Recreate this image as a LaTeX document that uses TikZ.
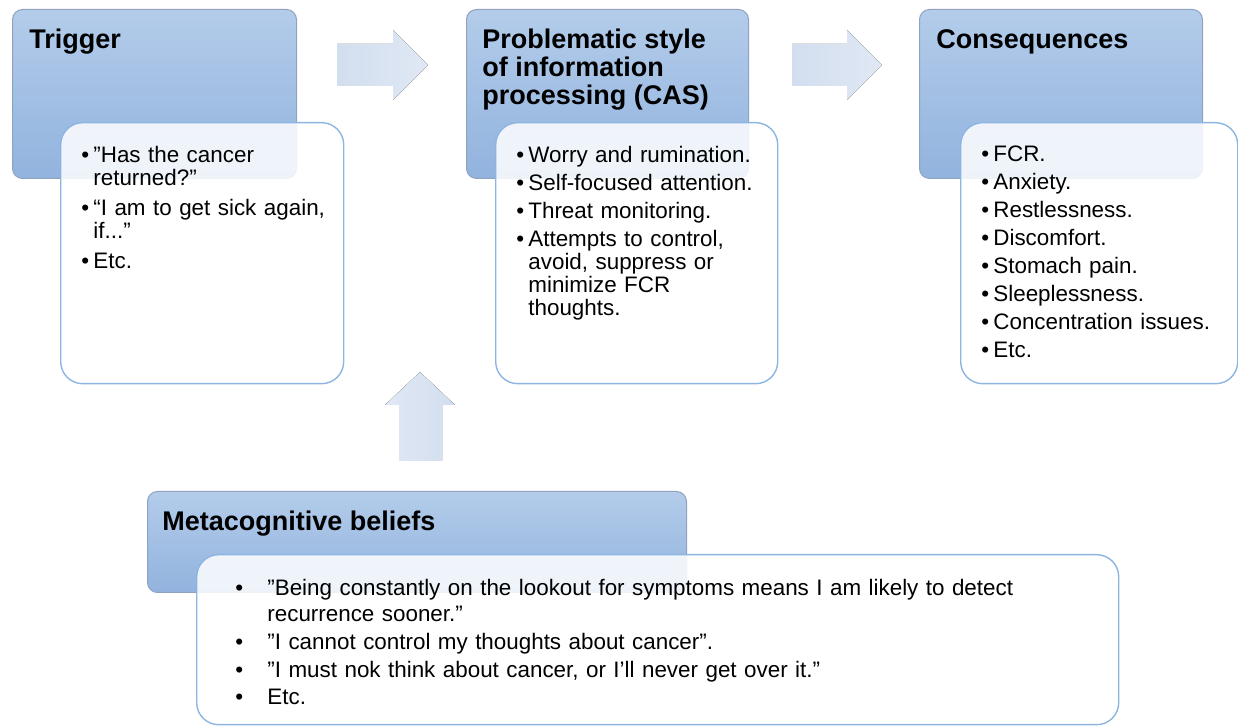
\documentclass[tikz,border=0pt]{standalone}
\usepackage{fontspec}
\setmainfont{Liberation Sans}
\usepackage{xcolor}
\definecolor{hdtop}{HTML}{B3CCEA}
\definecolor{hdbot}{HTML}{92B3DE}
\definecolor{hdline}{HTML}{8FA3C0}
\definecolor{bxline}{HTML}{8DB5E4}
\definecolor{arlo}{HTML}{D2DEEF}
\definecolor{arhi}{HTML}{E0E8F4}
\newcommand{\bul}[1]{\par\hangindent=6pt\hangafter=1\noindent\makebox[6pt][l]{•}#1}
\newcommand{\wbul}[1]{\par\hangindent=16pt\hangafter=1\noindent\makebox[16pt][l]{•}#1}

\begin{document}
\begin{tikzpicture}[x=0.5pt, y=-0.5pt,
  hdr/.style={draw=hdline, line width=0.5pt, top color=hdtop, bottom color=hdbot,
    rounded corners=5pt, anchor=north west, inner sep=0pt},
  note/.style={draw=bxline, line width=0.7pt, fill=white, fill opacity=0.85,
    rounded corners=11pt, anchor=north west, inner sep=0pt},
  ttl/.style={anchor=north west, inner sep=0pt, align=left,
    font=\fontsize{13.5}{14}\selectfont\bfseries},
  lst/.style={anchor=north west, inner sep=0pt, align=left, text width=140pt,
    font=\fontsize{11.2}{11.5}\selectfont},
  blk/.style={left color=arlo, right color=arhi}]
  \useasboundingbox (0,0) rectangle (1238,726);

  % header boxes
  \node[hdr, minimum width=142pt, minimum height=84.5pt] (trig-h) at (12,9) {};
  \node[hdr, minimum width=141pt, minimum height=84.5pt] (cas-h) at (466,9) {};
  \node[hdr, minimum width=141.5pt, minimum height=84.5pt] (cons-h) at (919,9) {};
  \node[hdr, minimum width=269.5pt, minimum height=50.5pt] (meta-h) at (147,491) {};

  \node[ttl] (trig-t) at (29,29) {Trigger};
  \node[ttl] (cas-t) at (482,29) {Problematic style\\of information\\processing (CAS)};
  \node[ttl] (cons-t) at (936,29) {Consequences};
  \node[ttl] (meta-t) at (162,511) {Metacognitive beliefs};

  % block arrows
  \fill[blk] (337,44) -- (393,44) -- (393,30) -- (428,65) -- (393,100) -- (393,86) -- (337,86) -- cycle;
  \fill[blk] (792,44) -- (847,44) -- (847,30) -- (882,65) -- (847,100) -- (847,86) -- (792,86) -- cycle;
  \fill[left color=arhi, right color=arlo] (399,461) -- (399,405) -- (385,405) -- (420,372)
    -- (455,405) -- (442,405) -- (442,461) -- cycle;

  % white boxes
  \node[note, minimum width=141.5pt, minimum height=130.5pt] (trig-b) at (60,122) {};
  \node[note, minimum width=141pt, minimum height=130.5pt] (cas-b) at (495,122) {};
  \node[note, minimum width=138.5pt, minimum height=130.5pt] (cons-b) at (960,122) {};
  \node[note, minimum width=461pt, minimum height=85pt] (meta-b) at (196,554) {};

  \node[lst] (trig-l) at (81,132) {\setlength{\parskip}{3.5pt}%
    \bul{”Has the cancer\newline returned?”}
    \bul{“I am to get sick again,\newline if...”}
    \bul{Etc.}\par};
  \node[lst] (cas-l) at (516,134) {\setlength{\parskip}{2.5pt}%
    \bul{Worry and rumination.}
    \bul{Self-focused attention.}
    \bul{Threat monitoring.}
    \bul{Attempts to control,\newline avoid, suppress or\newline minimize FCR\newline thoughts.}\par};
  \node[lst] (cons-l) at (981,133) {\setlength{\parskip}{2.5pt}%
    \bul{FCR.}
    \bul{Anxiety.}
    \bul{Restlessness.}
    \bul{Discomfort.}
    \bul{Stomach pain.}
    \bul{Sleeplessness.}
    \bul{Concentration issues.}
    \bul{Etc.}\par};
  \node[lst, text width=440pt, font=\fontsize{11.2}{13}\selectfont] (meta-l) at (235,568) {\setlength{\parskip}{0.8pt}%
    \wbul{”Being constantly on the lookout for symptoms means I am likely to detect\newline recurrence sooner.”}
    \wbul{”I cannot control my thoughts about cancer”.}
    \wbul{”I must nok think about cancer, or I’ll never get over it.”}
    \wbul{Etc.}\par};
\end{tikzpicture}
\end{document}
